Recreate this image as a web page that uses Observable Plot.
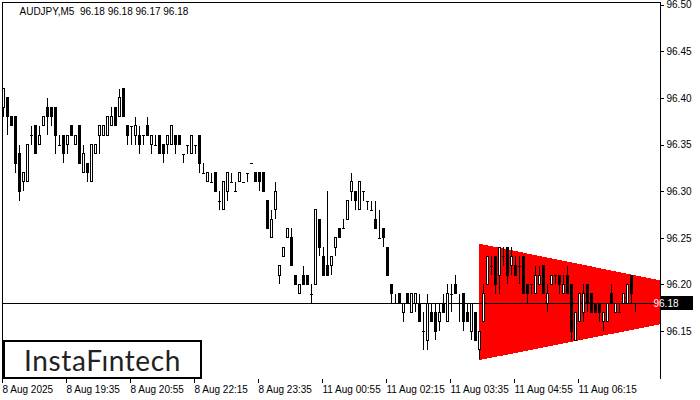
<!DOCTYPE html>
<html><head><meta charset="utf-8">
<script src="https://cdn.jsdelivr.net/npm/d3@7"></script>
<script src="https://cdn.jsdelivr.net/npm/@observablehq/plot@0.6"></script>
<style>
body{margin:0;background:#fff;}
#wrap{position:relative;width:700px;height:400px;overflow:hidden;background:#fff;}
#logo{position:absolute;left:3px;top:340px;width:199px;height:39px;box-sizing:border-box;border:2px solid #000;background:#fff;font-family:Lato,"Open Sans",sans-serif;font-size:28px;letter-spacing:0.6px;color:#222;display:flex;align-items:center;justify-content:center;}
</style></head><body><div id="wrap"><div id="logo">InstaFıntech</div></div>
<script>
const title = "AUDJPY,M5  96.18 96.18 96.17 96.18";
const open = [96.39,96.40,96.38,96.38,96.34,96.31,96.31,96.36,96.37,96.35,96.37,96.39,96.39,96.39,96.35,96.36,96.35,96.37,96.35,96.37,
96.32,96.33,96.31,96.34,96.36,96.36,96.36,96.37,96.39,96.38,96.41,96.37,96.37,96.36,96.36,96.36,96.37,96.35,96.35,96.36,
96.35,96.35,96.35,96.36,96.36,96.34,96.35,96.34,96.35,96.36,96.32,96.31,96.31,96.32,96.29,96.28,96.30,96.31,96.30,96.31,
96.31,96.32,96.33,96.32,96.32,96.32,96.29,96.25,96.28,96.21,96.23,96.25,96.25,96.21,96.19,96.21,96.21,96.19,96.20,96.27,
96.23,96.22,96.22,96.24,96.26,96.26,96.27,96.30,96.30,96.28,96.30,96.29,96.28,96.27,96.25,96.26,96.24,96.20,96.18,96.19,
96.17,96.19,96.17,96.18,96.18,96.15,96.14,96.17,96.17,96.16,96.18,96.16,96.19,96.20,96.18,96.19,96.17,96.15,96.17,96.13,
96.16,96.20,96.22,96.23,96.21,96.23,96.24,96.22,96.22,96.22,96.23,96.20,96.20,96.19,96.20,96.22,96.18,96.20,96.21,96.21,
96.19,96.21,96.20,96.14,96.16,96.17,96.20,96.19,96.18,96.18,96.16,96.16,96.19,96.17,96.17,96.18,96.18,96.21,96.18];
const high = [96.41,96.40,96.38,96.38,96.35,96.32,96.35,96.37,96.37,96.37,96.38,96.40,96.39,96.39,96.36,96.36,96.36,96.37,96.36,96.37,
96.35,96.33,96.35,96.35,96.37,96.37,96.38,96.39,96.39,96.41,96.41,96.37,96.37,96.38,96.37,96.36,96.38,96.36,96.36,96.36,
96.35,96.36,96.37,96.36,96.36,96.34,96.35,96.36,96.35,96.36,96.33,96.32,96.32,96.32,96.30,96.31,96.32,96.32,96.31,96.32,
96.31,96.32,96.33,96.32,96.32,96.32,96.29,96.28,96.31,96.22,96.24,96.26,96.26,96.21,96.20,96.22,96.21,96.20,96.28,96.27,
96.24,96.30,96.23,96.25,96.26,96.27,96.29,96.32,96.30,96.31,96.30,96.29,96.29,96.29,96.28,96.26,96.24,96.20,96.19,96.19,
96.18,96.19,96.19,96.19,96.19,96.17,96.19,96.18,96.18,96.18,96.19,96.20,96.20,96.21,96.19,96.19,96.18,96.18,96.17,96.15,
96.20,96.23,96.23,96.23,96.24,96.24,96.24,96.24,96.23,96.23,96.23,96.20,96.20,96.22,96.22,96.22,96.20,96.21,96.21,96.21,
96.21,96.22,96.20,96.17,96.19,96.20,96.20,96.19,96.18,96.18,96.17,96.18,96.20,96.18,96.18,96.19,96.20,96.21,96.18];
const low = [96.38,96.36,96.37,96.32,96.29,96.30,96.31,96.35,96.34,96.35,96.37,96.36,96.37,96.34,96.35,96.33,96.34,96.36,96.35,96.33,
96.32,96.31,96.31,96.34,96.34,96.36,96.36,96.37,96.37,96.38,96.38,96.35,96.35,96.35,96.34,96.35,96.36,96.34,96.35,96.34,
96.33,96.34,96.35,96.34,96.35,96.33,96.34,96.34,96.34,96.32,96.32,96.31,96.31,96.30,96.28,96.28,96.29,96.31,96.30,96.31,
96.31,96.31,96.33,96.31,96.30,96.30,96.26,96.25,96.27,96.20,96.23,96.25,96.22,96.20,96.19,96.20,96.20,96.18,96.20,96.23,
96.21,96.21,96.21,96.23,96.25,96.26,96.27,96.29,96.28,96.28,96.29,96.28,96.28,96.26,96.25,96.24,96.21,96.18,96.18,96.18,
96.16,96.18,96.17,96.17,96.16,96.13,96.13,96.16,96.14,96.15,96.17,96.16,96.17,96.19,96.16,96.15,96.16,96.14,96.14,96.12,
96.16,96.20,96.21,96.19,96.19,96.22,96.20,96.21,96.21,96.20,96.19,96.18,96.19,96.19,96.20,96.19,96.17,96.20,96.20,96.19,
96.19,96.19,96.14,96.14,96.16,96.16,96.17,96.17,96.17,96.16,96.15,96.16,96.18,96.17,96.17,96.18,96.18,96.18,96.17];
const close = [96.41,96.38,96.37,96.33,96.30,96.32,96.35,96.36,96.34,96.36,96.38,96.38,96.38,96.36,96.35,96.34,96.36,96.36,96.36,96.33,
96.34,96.32,96.35,96.35,96.37,96.37,96.38,96.38,96.37,96.40,96.38,96.36,96.37,96.37,96.35,96.36,96.36,96.36,96.35,96.34,
96.34,96.36,96.37,96.35,96.35,96.34,96.35,96.36,96.35,96.33,96.32,96.32,96.31,96.30,96.29,96.31,96.32,96.31,96.30,96.32,
96.31,96.32,96.33,96.31,96.31,96.30,96.26,96.27,96.30,96.22,96.24,96.26,96.22,96.20,96.20,96.20,96.20,96.19,96.28,96.24,
96.21,96.21,96.23,96.25,96.25,96.26,96.29,96.31,96.29,96.31,96.30,96.29,96.28,96.26,96.25,96.25,96.21,96.19,96.18,96.18,
96.18,96.18,96.19,96.19,96.16,96.15,96.18,96.16,96.15,96.17,96.17,96.19,96.19,96.19,96.18,96.16,96.16,96.18,96.14,96.15,
96.19,96.23,96.22,96.20,96.24,96.23,96.21,96.23,96.21,96.22,96.19,96.19,96.20,96.21,96.21,96.19,96.19,96.21,96.21,96.20,
96.20,96.19,96.15,96.17,96.19,96.19,96.18,96.17,96.17,96.17,96.17,96.18,96.18,96.18,96.17,96.19,96.20,96.19,96.18];
const timeTickIndex = [0,16,32,48,64,80,96,112,128,144];
const timeTickLabels = ["8 Aug 2025","8 Aug 19:35","8 Aug 20:55","8 Aug 22:15","8 Aug 23:35","11 Aug 00:55","11 Aug 02:15","11 Aug 03:35","11 Aug 04:55","11 Aug 06:15"];
const priceTicks = [96.15,96.20,96.25,96.30,96.35,96.40,96.45,96.50];
const currentPrice = 96.18;
const triangleIndex = [119, 164.25];
const triangleUpper = [96.2437, 96.2043];
const triangleLower = [96.1187, 96.1572];

const xMax = 164.25, yMin = 96.0985, yMax = 96.503;
const candles = open.map((o,i)=>({i, o, h: high[i], l: low[i], c: close[i]}));
const tri = triangleIndex.map((x,k)=>({i:x, hi: triangleUpper[k], lo: triangleLower[k]}));
const font = "'Liberation Sans', Arial, sans-serif";
const crisp = {shapeRendering: "crispEdges"};

const plot = Plot.plot({
  width: 700, height: 400,
  marginLeft: 3, marginRight: 40, marginTop: 2, marginBottom: 21,
  style: {fontFamily: font, fontSize: "10px", color: "#000", background: "transparent", overflow: "visible"},
  x: {domain: [0, xMax]},
  y: {domain: [yMin, yMax]},
  marks: [
    Plot.areaY(tri, {x: "i", y1: "lo", y2: "hi", fill: "#ff0000", ...crisp}),
    Plot.ruleY([currentPrice], {stroke: "#000", ...crisp}),
    Plot.ruleX([-0.25], {stroke: "#000", ...crisp}),
    Plot.ruleY([yMax], {stroke: "#000", x1: -0.25, x2: xMax, ...crisp}),
    Plot.ruleX([xMax], {stroke: "#000", ...crisp}),
    Plot.ruleX(candles, {x: "i", y1: "l", y2: "h", stroke: "#000", ...crisp}),
    Plot.rect(candles.filter(d => d.o !== d.c), {x1: d => d.i - 0.25, x2: d => d.i + 0.25, y1: "o", y2: "c", fill: d => d.c > d.o ? "#fff" : "#000", stroke: "#000", ...crisp}),
    Plot.ruleY(candles.filter(d => d.o === d.c), {y: "o", x1: d => d.i - 0.375, x2: d => d.i + 0.375, stroke: "#000", ...crisp}),
    Plot.axisX({ticks: timeTickIndex, tickFormat: d => timeTickLabels[timeTickIndex.indexOf(d)], tickSize: 4, tickPadding: 2, textAnchor: "start", dx: -1, label: null, ...crisp}),
    Plot.axisY({anchor: "right", ticks: priceTicks, tickFormat: d => d.toFixed(2), tickSize: 3, tickPadding: 3, label: null, ...crisp}),
    Plot.text([title], {frameAnchor: "top-left", dx: 16, dy: 5, lineAnchor: "top", text: d => d, fill: "#000"})
  ]
});
const wrap = document.getElementById("wrap");
wrap.insertBefore(plot, wrap.firstChild);
const ys = plot.scale("y").apply(currentPrice);
const xs = plot.scale("x").apply(xMax);
const g = d3.select(plot).append("g");
g.append("rect").attr("x", xs + 1).attr("y", Math.round(ys) - 7).attr("width", 32).attr("height", 14).attr("fill", "#000").attr("shape-rendering", "crispEdges");
g.append("text").attr("x", xs + 6).attr("y", ys).attr("dy", "0.35em").attr("fill", "#fff")
  .attr("font-family", font).attr("font-size", "10px").text(currentPrice.toFixed(2));
</script></body></html>
